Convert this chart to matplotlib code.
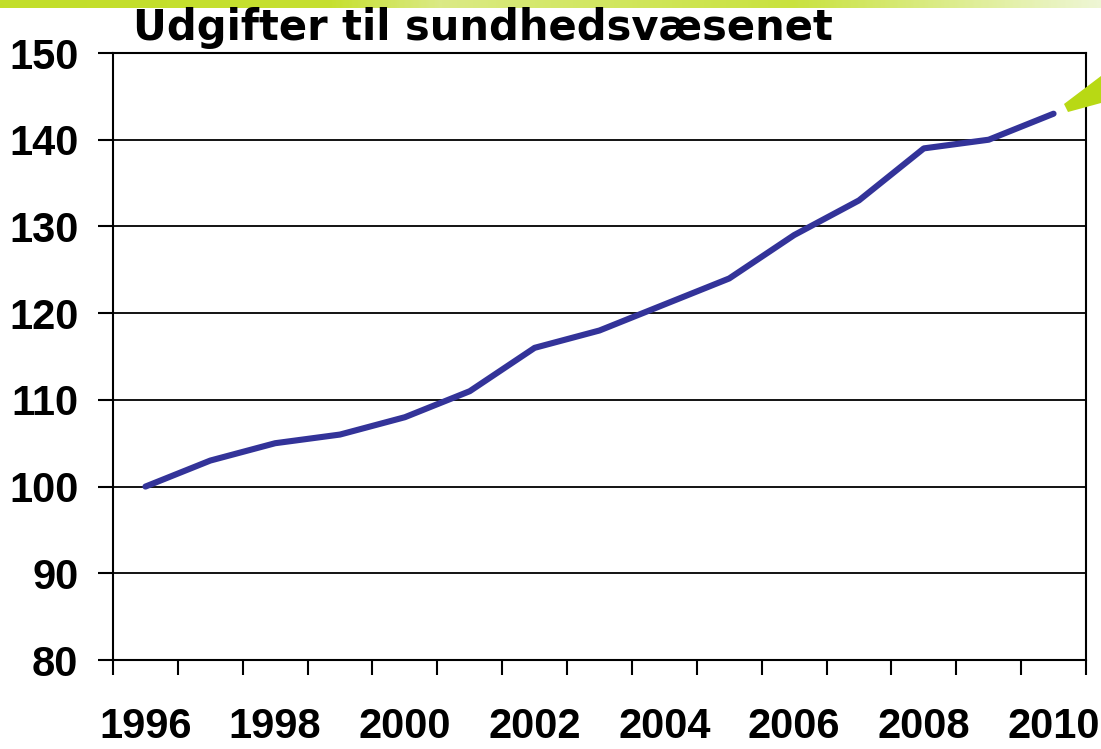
import numpy as np
from matplotlib import pyplot as plt
from matplotlib.colors import LinearSegmentedColormap
from matplotlib.patches import Polygon

# data
aar = ['1996', '1997', '1998', '1999', '2000', '2001', '2002', '2003',
       '2004', '2005', '2006', '2007', '2008', '2009', '2010']
udgifter = [100, 103, 105, 106, 108, 111, 116, 118, 121, 124, 129, 133, 139, 140, 143]
y_ticks = [80, 90, 100, 110, 120, 130, 140, 150]
titel = 'Udgifter til sundhedsvæsenet'

W, H = 1101, 749
fig = plt.figure(figsize=(W / 100, H / 100), dpi=100)
fig.patch.set_facecolor('white')

# green band at the top of the slide
band = fig.add_axes([0, 1 - 8 / H, 1, 8 / H])
cmap = LinearSegmentedColormap.from_list(
    'band', [(0, '#c2de2a'), (0.3, '#c6e030'), (0.4, '#dbea86'), (0.5, '#d4e86a'),
             (0.72, '#c9e23e'), (1, '#eef6d4')])
band.imshow(np.linspace(0, 1, 400).reshape(1, -1), aspect='auto', cmap=cmap)
band.axis('off')

ax = fig.add_axes([113 / W, 1 - 660 / H, (1086 - 113) / W, (660 - 53) / H])
x = np.arange(len(aar))
ax.plot(x, udgifter, color='#333399', lw=4.4, solid_capstyle='round', zorder=3)

ax.set_xlim(-0.5, len(aar) - 0.5)
ax.set_ylim(80, 150)
ax.set_yticks(y_ticks)
ax.set_xticks(x[::2])
ax.set_xticklabels(aar[::2])
ax.set_xticks(np.arange(-0.5, len(aar), 1), minor=True)
ax.grid(axis='y', color='black', lw=1.3)
ax.set_axisbelow(True)

for t in ax.get_xticklabels() + ax.get_yticklabels():
    t.set_fontfamily('Liberation Sans')
    t.set_fontweight('bold')
    t.set_fontsize(30)
ax.tick_params(axis='x', which='major', length=0, pad=34)
ax.tick_params(axis='x', which='minor', length=11, width=1.5, color='black')
ax.tick_params(axis='y', length=11, width=1.5, color='black', pad=14)
for s in ax.spines.values():
    s.set_color('black')
    s.set_linewidth(1.5)

fig.text(133 / W, 1 - 40 / H, titel, family='DejaVu Sans', weight='bold',
         fontsize=30, va='baseline', ha='left')

# green arrow tip at the right edge
pil = fig.add_axes([0, 0, 1, 1], facecolor='none')
pil.set_xlim(0, W)
pil.set_ylim(H, 0)
pil.axis('off')
pil.add_patch(Polygon([(1064, 104), (1068, 112), (1101, 103), (1101, 76)],
                      closed=True, color='#b8d914', lw=0))

fig.savefig('out.png', dpi=100)
